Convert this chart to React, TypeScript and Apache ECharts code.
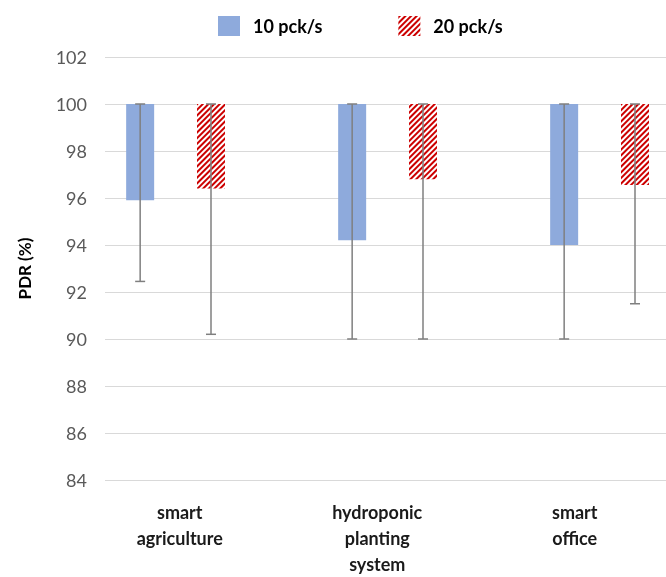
import React, { useEffect, useRef } from "react";
import * as echarts from "echarts";

const categories = ["smart\nagriculture", "hydroponic\nplanting\nsystem", "smart\noffice"];
const seriesNames = ["10 pck/s", "20 pck/s"];
// bar spans (bottom -> top) and whisker minimums
const low10 = [95.9, 94.2, 94.0];
const high10 = [100, 100, 100];
const min10 = [92.45, 90.0, 90.0];
const low20 = [96.4, 96.8, 96.55];
const high20 = [100, 100, 100];
const min20 = [90.2, 90.0, 91.5];
const yTicks = { min: 84, max: 102, interval: 2 };

const BAR_W = 28;
const BAR_GAP = 1.53;
const SLOT = BAR_W * (1 + BAR_GAP);

export default function App() {
  const ref = useRef<HTMLDivElement>(null);
  useEffect(() => {
    if (!ref.current) return;
    const chart = echarts.init(ref.current, null, { renderer: "svg" });
    const font = "Lato, 'Noto Sans', sans-serif";
    const whisker = (offset: number) => (params: any, api: any) => {
      const cat = api.value(0);
      const lo = api.value(1);
      const hi = api.value(2);
      const pTop = api.coord([cat, hi]);
      const pBot = api.coord([cat, lo]);
      const x = pTop[0] + offset;
      const style = { stroke: "#7f7f7f", lineWidth: 1.5 };
      return {
        type: "group",
        children: [
          { type: "line", shape: { x1: x, y1: pTop[1], x2: x, y2: pBot[1] }, style },
          { type: "line", shape: { x1: x - 5, y1: pTop[1], x2: x + 5, y2: pTop[1] }, style },
          { type: "line", shape: { x1: x - 5, y1: pBot[1], x2: x + 5, y2: pBot[1] }, style },
        ],
      };
    };
    chart.setOption({
      animation: false,
      textStyle: { fontFamily: font },
      legend: {
        top: 11,
        left: 213,
        icon: "rect",
        itemWidth: 22,
        itemHeight: 20,
        itemGap: 76,
        data: seriesNames,
        textStyle: { fontSize: 18, fontWeight: "bold", color: "#000", fontFamily: font, padding: [0, 0, 0, 8] },
      },
      grid: [
        { left: 105, width: 636, top: 57, height: 423, outerBoundsMode: "none", containLabel: false },
        { left: 81, width: 592.5, top: 57, height: 423, outerBoundsMode: "none", containLabel: false },
      ],
      xAxis: [
        {
          type: "category",
          gridIndex: 0,
          data: categories,
          axisLine: { show: false },
          axisTick: { show: false },
          axisLabel: { show: false },
        },
        {
          type: "category",
          gridIndex: 1,
          data: categories,
          axisLine: { show: false },
          axisTick: { show: false },
          axisLabel: {
            margin: 19,
            fontSize: 18,
            fontWeight: "bold",
            color: "#1a1a1a",
            lineHeight: 26,
            fontFamily: font,
          },
        },
      ],
      yAxis: [
        {
          type: "value",
          gridIndex: 0,
          min: yTicks.min,
          max: yTicks.max,
          interval: yTicks.interval,
          axisLine: { show: false },
          axisTick: { show: false },
          splitLine: { lineStyle: { color: "#d9d9d9", width: 1 } },
          axisLabel: { fontSize: 18, color: "#595959", margin: 18, fontFamily: font },
          name: "PDR (%)",
          nameLocation: "middle",
          nameGap: 72,
          nameRotate: 90,
          nameTextStyle: { fontSize: 17, fontWeight: "bold", color: "#000", fontFamily: font },
        },
        { type: "value", gridIndex: 1, show: false, min: 0, max: 1 },
      ],
      series: [
        {
          type: "bar",
          name: "base10",
          stack: "a",
          barWidth: BAR_W,
          barGap: BAR_GAP * 100 + "%",
          data: low10,
          itemStyle: { color: "transparent" },
          silent: true,
        },
        {
          type: "bar",
          name: seriesNames[0],
          stack: "a",
          barWidth: BAR_W,
          data: high10.map((h, i) => +(h - low10[i]).toFixed(3)),
          itemStyle: { color: "#8eaadc" },
        },
        {
          type: "bar",
          name: "base20",
          stack: "b",
          barWidth: BAR_W,
          data: low20,
          itemStyle: { color: "transparent" },
          silent: true,
        },
        {
          type: "bar",
          name: seriesNames[1],
          stack: "b",
          barWidth: BAR_W,
          data: high20.map((h, i) => +(h - low20[i]).toFixed(3)),
          itemStyle: {
            color: "#ffffff",
            decal: {
              symbol: "rect",
              symbolSize: 1,
              dashArrayX: [1, 0],
              dashArrayY: [1.6, 1.6],
              rotation: -Math.PI / 4,
              color: "#cc0000",
            },
          },
        },
        {
          type: "bar",
          name: "spacer",
          stack: "c",
          barWidth: BAR_W,
          data: [null, null, null],
        },
        {
          type: "custom",
          name: "err10",
          z: 5,
          renderItem: whisker(-SLOT),
          encode: { x: 0, y: [1, 2] },
          data: categories.map((_, i) => [i, min10[i], high10[i]]),
        },
        {
          type: "custom",
          name: "err20",
          z: 5,
          renderItem: whisker(0),
          encode: { x: 0, y: [1, 2] },
          data: categories.map((_, i) => [i, min20[i], high20[i]]),
        },
      ],
    });
    return () => chart.dispose();
  }, []);
  return <div ref={ref} style={{ position: "fixed", left: 0, top: 0, width: 666, height: 577 }} />;
}
